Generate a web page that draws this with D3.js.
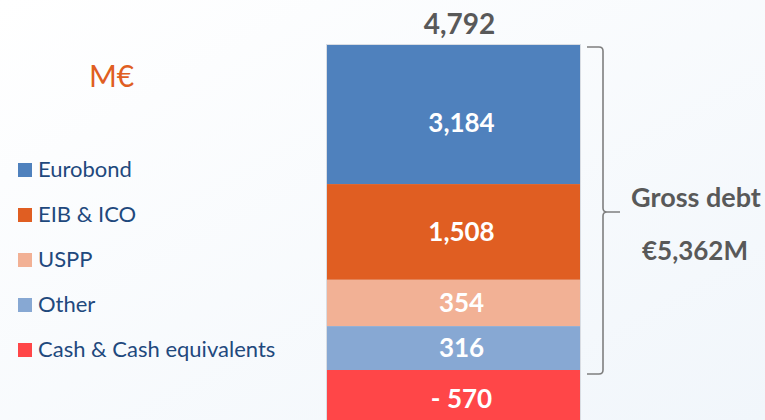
<!DOCTYPE html>
<html>
<head>
<meta charset="utf-8">
<script src="https://cdn.jsdelivr.net/npm/d3@7"></script>
<style>
  html, body { margin: 0; padding: 0; background: #fff; }
  svg { display: block; font-family: Lato, "Open Sans", sans-serif; }
</style>
</head>
<body>
<svg id="chart"></svg>
<script>
// data
const series = ['Eurobond', 'EIB & ICO', 'USPP', 'Other', 'Cash & Cash equivalents'];
const values = [3184, 1508, 354, 316, -570];
const colors = ['#4f81bd', '#e05e22', '#f2b195', '#87a8d3', '#ff4648'];
const unitLabel = 'M€';
const braceTitle = 'Gross debt';

const width = 765;
const height = 420;

const svg = d3.select('#chart').attr('width', width).attr('height', height);

// faint background wash
const defs = svg.append('defs');
const grad = defs.append('linearGradient').attr('id', 'bg')
  .attr('x1', 0).attr('y1', 0).attr('x2', 1).attr('y2', 1);
grad.append('stop').attr('offset', '0%').attr('stop-color', '#ffffff');
grad.append('stop').attr('offset', '100%').attr('stop-color', '#f1f6fb');
svg.append('rect').attr('width', width).attr('height', height).attr('fill', 'url(#bg)');

const fmt = d3.format(',');

// the slide's bar is not to linear scale; segment heights follow a sqrt scale
const stackTop = 45;
const debtBottom = 370;
const debt = values.filter(v => v > 0);
const sqrtSum = d3.sum(debt, v => Math.sqrt(v));
const hScale = d3.scaleSqrt()
  .domain([0, sqrtSum * sqrtSum])
  .range([0, debtBottom - stackTop]);

const xScale = d3.scaleBand()
  .domain(['Net debt'])
  .range([327, 580])
  .padding(0);

// stacked segments
let acc = stackTop;
const segs = values.map((v, i) => {
  const h = hScale(Math.abs(v));
  const s = { name: series[i], value: v, color: colors[i], y0: acc, y1: acc + h };
  acc += h;
  return s;
});

const bx = xScale('Net debt');
const bw = xScale.bandwidth();

// soft shadow on bar edges
svg.append('rect')
  .attr('x', bx - 1).attr('y', stackTop - 1)
  .attr('width', bw + 2).attr('height', height)
  .attr('fill', '#d9dde3');

svg.selectAll('.seg')
  .data(segs)
  .enter()
  .append('rect')
  .attr('class', 'seg')
  .attr('x', bx)
  .attr('y', d => d.y0)
  .attr('width', bw)
  .attr('height', d => d.y1 - d.y0)
  .attr('fill', d => d.color);

svg.selectAll('.seg-label')
  .data(segs)
  .enter()
  .append('text')
  .attr('class', 'seg-label')
  .attr('x', bx + bw / 2 + 8)
  .attr('y', d => (d.y0 + d.y1) / 2 + (d.value === values[0] ? 11 : 2))
  .attr('text-anchor', 'middle')
  .attr('dominant-baseline', 'middle')
  .attr('fill', '#ffffff')
  .attr('font-size', '26px')
  .attr('font-weight', 'bold')
  .text(d => d.value < 0 ? '- ' + fmt(-d.value) : fmt(d.value));

// net total on top
svg.append('text')
  .attr('x', bx + bw / 2 + 6)
  .attr('y', 27)
  .attr('text-anchor', 'middle')
  .attr('dominant-baseline', 'middle')
  .attr('fill', '#595959')
  .attr('font-size', '28px')
  .attr('font-weight', 'bold')
  .text(fmt(d3.sum(values)));

// brace around gross debt
const bTop = stackTop + 2;
const bBot = segs[3].y1 + 4;
const bMid = 212;
const lx = 587, vx = 603, tx = 620, r = 4;
const p = d3.path();
p.moveTo(lx, bTop);
p.lineTo(vx - r, bTop);
p.quadraticCurveTo(vx, bTop, vx, bTop + r);
p.lineTo(vx, bMid - r);
p.quadraticCurveTo(vx, bMid, vx + r, bMid);
p.lineTo(tx, bMid);
p.moveTo(vx + r, bMid);
p.quadraticCurveTo(vx, bMid, vx, bMid + r);
p.lineTo(vx, bBot - r);
p.quadraticCurveTo(vx, bBot, vx - r, bBot);
p.lineTo(lx, bBot);
svg.append('path')
  .attr('d', p.toString())
  .attr('fill', 'none')
  .attr('stroke', '#7f7f7f')
  .attr('stroke-width', 1.6);

svg.append('text')
  .attr('x', 696).attr('y', 200)
  .attr('text-anchor', 'middle')
  .attr('dominant-baseline', 'middle')
  .attr('fill', '#595959')
  .attr('font-size', '27px')
  .attr('font-weight', 'bold')
  .text(braceTitle);

svg.append('text')
  .attr('x', 695).attr('y', 253)
  .attr('text-anchor', 'middle')
  .attr('dominant-baseline', 'middle')
  .attr('fill', '#595959')
  .attr('font-size', '26px')
  .attr('font-weight', 'bold')
  .text('€' + fmt(d3.sum(debt)) + 'M');

// unit
svg.append('text')
  .attr('x', 89).attr('y', 79)
  .attr('dominant-baseline', 'middle')
  .attr('fill', '#e05e22')
  .attr('font-size', '30px')
  .text(unitLabel);

// legend
const ly = d3.scalePoint().domain(series).range([170, 350]);
const legend = svg.selectAll('.legend')
  .data(series)
  .enter()
  .append('g')
  .attr('class', 'legend')
  .attr('transform', d => `translate(18,${ly(d)})`);

legend.append('rect')
  .attr('x', 0).attr('y', -7)
  .attr('width', 14).attr('height', 14)
  .attr('fill', (d, i) => colors[i]);

legend.append('text')
  .attr('x', 20)
  .attr('y', 1)
  .attr('dominant-baseline', 'middle')
  .attr('fill', '#1f497d')
  .attr('font-size', '22px')
  .text(d => d);
</script>
</body>
</html>
